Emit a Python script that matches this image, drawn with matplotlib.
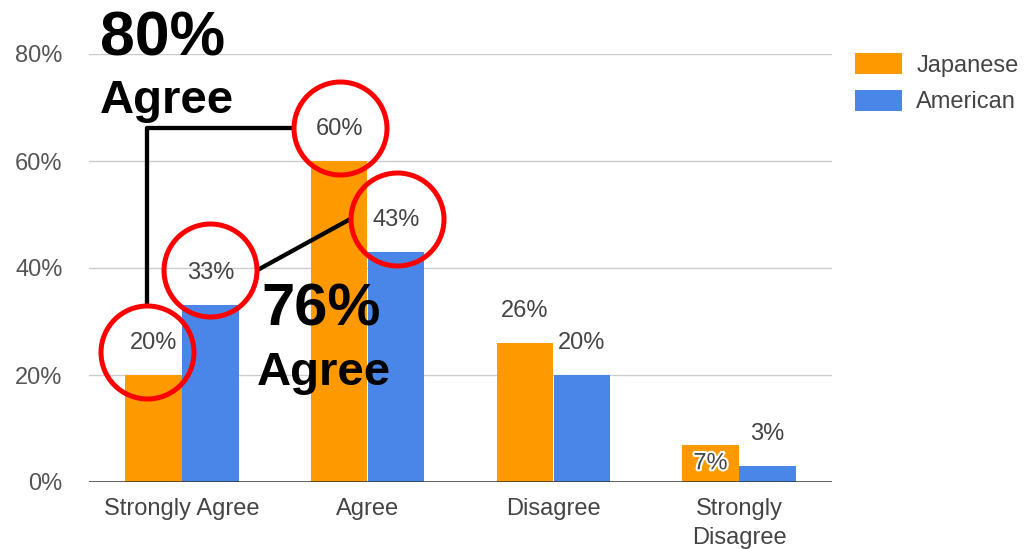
import matplotlib
matplotlib.use("Agg")
import matplotlib.pyplot as plt
import matplotlib.patheffects as pe
from matplotlib.lines import Line2D
from matplotlib.transforms import IdentityTransform
import numpy as np

plt.rcParams['font.family'] = ['Liberation Sans', 'DejaVu Sans']

categories = ['Strongly Agree', 'Agree', 'Disagree', 'Strongly\nDisagree']
series = ['Japanese', 'American']
japanese = [20, 60, 26, 7]
american = [33, 43, 20, 3]
colors = ['#ff9900', '#4a86e8']
y_ticks = [0, 20, 40, 60, 80]
y_tick_labels = ['0%', '20%', '40%', '60%', '80%']

# callouts drawn on top of the chart
big_texts = [('80%', 45), ('Agree', 34), ('76%', 43), ('Agree', 34)]

W, H = 1025, 549
fig = plt.figure(figsize=(W / 100, H / 100), dpi=100)
ax = fig.add_axes([89 / W, 1 - 482 / H, (832 - 89) / W, (482 - 54) / H])

x = np.arange(len(categories))
bw = 0.305
offs = [-0.1535, 0.1535]
for vals, col, off, name in zip([japanese, american], colors, offs, series):
    ax.bar(x + off, vals, width=bw, color=col, label=name, zorder=2)

ax.set_xlim(-0.5, 3.5)
ax.set_ylim(0, 80)
ax.set_yticks(y_ticks)
ax.set_yticklabels(y_tick_labels)
ax.set_xticks(x)
ax.set_xticklabels(categories, linespacing=1.4)
ax.tick_params(axis='y', length=0, pad=19, labelsize=17, labelcolor='#555555')
ax.tick_params(axis='x', length=0, pad=11.5, labelsize=17, labelcolor='#444444')
ax.grid(axis='y', color='#cccccc', lw=1, zorder=0)
for s in ax.spines.values():
    s.set_visible(False)
ax.axhline(0, color='#333333', lw=1.8, zorder=3)

# value labels
label_pos = {}
for vals, off, si in zip([japanese, american], offs, range(2)):
    for i, v in enumerate(vals):
        if si == 0 and i == 3:
            ly = v / 2
            t = ax.text(i + off, ly, f'{v}%', ha='center', va='center', fontsize=17,
                        color='#444444', zorder=4)
            t.set_path_effects([pe.withStroke(linewidth=3, foreground='white')])
        else:
            ly = v + 6
            ax.text(i + off, ly, f'{v}%', ha='center', va='center', fontsize=17,
                    color='#444444', zorder=4)
        label_pos[(si, i)] = (i + off, ly)

leg = ax.legend(loc='upper left', bbox_to_anchor=(855 / W, 1 - 53 / H),
                bbox_transform=fig.transFigure, frameon=False, fontsize=17,
                handlelength=2.0, handleheight=1.0, handletextpad=0.6,
                labelspacing=0.55, borderpad=0, borderaxespad=0)
for t in leg.get_texts():
    t.set_color('#444444')

# red circles around selected labels (pixel space)
def px(key, dx=0, dy=0):
    cx, cy = ax.transData.transform(label_pos[key])
    return cx + dx, cy + dy

c20 = px((0, 0), -6, -9)
c33 = px((1, 0), 0, 3)
c60 = px((0, 1), 1, 1)
c43 = px((1, 1), 1, 1)
r = 46.5
for c in [c20, c33, c60, c43]:
    fig.add_artist(Line2D([c[0]], [c[1]], marker='o', ms=2 * r / 1.389, mfc='none',
                          mec='#ff0000', mew=3.6, transform=IdentityTransform(), zorder=6))

lw = 3.1
fig.add_artist(Line2D([c20[0], c20[0], c60[0] - r], [c20[1] + r, c60[1], c60[1]],
                      color='black', lw=lw, solid_capstyle='butt',
                      transform=IdentityTransform(), zorder=5))
fig.add_artist(Line2D([c33[0] + r, c43[0] - r], [c33[1], c43[1]],
                      color='black', lw=lw, solid_capstyle='butt',
                      transform=IdentityTransform(), zorder=5))

text_xy = [(100, 55), (100, 113), (261, 325), (257, 385)]
for (s, fs), (tx, ty) in zip(big_texts, text_xy):
    fig.text(tx / W, 1 - ty / H, s, fontsize=fs, fontweight='bold', color='black',
             va='baseline', ha='left', zorder=7)

fig.savefig('out.png', dpi=100)
